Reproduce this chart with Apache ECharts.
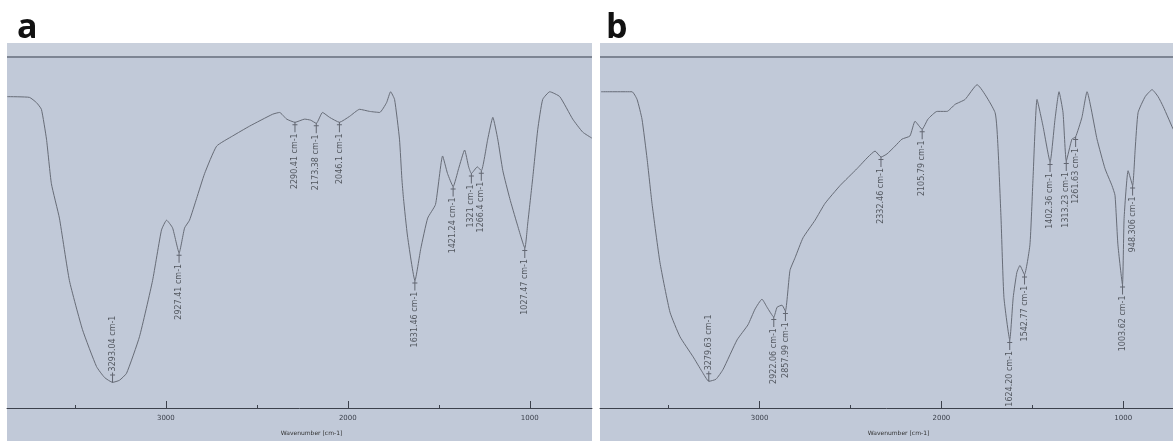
<!DOCTYPE html>
<html lang="en">
<head>
<meta charset="UTF-8">
<title>FTIR a / b</title>
<script src="https://cdn.jsdelivr.net/npm/echarts@6/dist/echarts.min.js"></script>
<style>
    html, body { margin: 0; padding: 0; background: #ffffff; }
    #chart { width: 1173px; height: 441px; }
</style>
</head>
<body>
<div id="chart"></div>
<script>
    // spectrum a : wavenumber (cm-1) / transmittance (%)
    var waveA = [3871, 3750, 3711, 3684, 3656, 3629, 3585, 3530, 3458, 3381, 3337, 3293, 3255, 3216, 3145, 3073, 3024, 2996, 2963, 2927,
        2897, 2870, 2831, 2787, 2721, 2633, 2540, 2413, 2375, 2336, 2290, 2237, 2204, 2173, 2139, 2100, 2046, 1990, 1935, 1880,
        1825, 1787, 1765, 1743, 1716, 1703, 1694, 1672, 1631, 1599, 1561, 1518, 1479, 1452, 1421, 1391, 1358, 1336, 1321, 1288,
        1266, 1231, 1203, 1176, 1148, 1110, 1071, 1027, 1011, 984, 956, 929, 890, 835, 764, 709, 659];
    var transA = [88.7, 88.5, 87.0, 85.1, 76.6, 63.9, 54.1, 36.3, 22.3, 11.8, 8.7, 7.3, 7.9, 9.9, 20.3, 36.3, 50.7, 53.5, 51.3, 44.2,
        51.3, 53.5, 59.7, 66.8, 74.6, 77.5, 80.3, 83.7, 84.2, 82.3, 81.4, 82.3, 82.0, 81.1, 84.2, 82.8, 81.4, 83.1, 85.1, 84.5,
        84.2, 87.0, 90.1, 87.9, 76.6, 65.4, 59.7, 49.0, 36.3, 45.4, 54.1, 58.0, 71.8, 66.8, 63.1, 68.2, 73.5, 68.7, 66.8, 68.7,
        67.6, 76.6, 82.8, 76.6, 67.6, 59.7, 52.7, 45.6, 52.7, 65.4, 79.4, 87.9, 90.1, 88.7, 82.3, 78.6, 76.9];

    // spectrum b
    var waveB = [3872, 3702, 3674, 3647, 3619, 3592, 3548, 3493, 3438, 3366, 3317, 3279, 3240, 3201, 3124, 3064, 3025, 2987, 2959, 2922,
        2904, 2877, 2858, 2833, 2805, 2761, 2695, 2640, 2557, 2464, 2404, 2365, 2332, 2299, 2255, 2217, 2173, 2145, 2106, 2074,
        2024, 1969, 1925, 1870, 1804, 1705, 1689, 1672, 1656, 1624, 1605, 1585, 1568, 1543, 1513, 1496, 1474, 1441, 1402, 1375,
        1353, 1331, 1313, 1282, 1262, 1227, 1199, 1144, 1100, 1062, 1045, 1029, 1004, 995, 973, 948, 934, 918, 879, 841,
        808, 780, 725];
    var transB = [90.1, 90.1, 87.9, 82.3, 71.0, 58.3, 41.4, 27.3, 20.3, 14.6, 10.4, 7.6, 8.2, 11.0, 19.4, 23.7, 28.2, 31.0, 28.7, 25.9,
        28.7, 29.3, 27.6, 39.2, 42.8, 48.5, 53.5, 58.3, 63.4, 68.2, 71.5, 73.2, 71.5, 72.4, 74.6, 76.6, 77.5, 81.7, 79.4, 82.3,
        84.5, 84.5, 86.5, 87.9, 92.1, 84.2, 74.6, 54.1, 31.5, 19.4, 31.5, 38.6, 40.6, 38.0, 46.5, 65.4, 87.9, 80.3, 70.1, 82.3,
        90.1, 84.2, 70.4, 76.6, 77.2, 82.8, 90.1, 76.6, 68.2, 63.4, 60.6, 46.5, 35.2, 54.0, 67.6, 63.4, 73.8, 84.2, 88.7, 90.7,
        88.7, 85.9, 79.4];

    // picked peaks
    var peakWaveA = [3293.04, 2927.41, 2290.41, 2173.38, 2046.1, 1631.46, 1421.24, 1321, 1266.4, 1027.47];
    var peakTA = [7.3, 44.2, 81.4, 81.1, 81.4, 36.3, 63.1, 66.8, 67.6, 45.6];
    var peakTextA = ['3293.04 cm-1', '2927.41 cm-1', '2290.41 cm-1', '2173.38 cm-1', '2046.1 cm-1', '1631.46 cm-1',
        '1421.24 cm-1', '1321 cm-1', '1266.4 cm-1', '1027.47 cm-1'];

    var peakWaveB = [3279.63, 2922.06, 2857.99, 2332.46, 2105.79, 1624.20, 1542.77, 1402.36, 1313.23, 1261.63, 1003.62, 948.306];
    var peakTB = [7.6, 25.9, 27.6, 71.5, 79.4, 19.4, 38.0, 70.1, 70.4, 77.2, 35.2, 63.4];
    var peakTextB = ['3279.63 cm-1', '2922.06 cm-1', '2857.99 cm-1', '2332.46 cm-1', '2105.79 cm-1', '1624.20 cm-1',
        '1542.77 cm-1', '1402.36 cm-1', '1313.23 cm-1', '1261.63 cm-1', '1003.62 cm-1', '948.306 cm-1'];

    var majorTicks = [3000, 2000, 1000];
    var minorTicks = [3500, 2500, 1500];
    var rangeA = [658, 3873];
    var rangeB = [726, 3878];

    var bg = '#c1c9d8';
    var axisColor = '#3c414c';

    function zip(xs, ys) {
        return xs.map(function (x, i) { return [x, ys[i]]; });
    }

    function peaks(ws, ts, texts) {
        return ws.map(function (w, i) {
            var up = ts[i] < 12;
            return {
                name: texts[i],
                value: [w, ts[i]],
                symbolOffset: [0, up ? -5 : 5],
                label: up ? { position: 'top', align: 'left' } : { position: 'bottom', align: 'right' }
            };
        });
    }

    function mainAxis(grid, range) {
        return {
            gridIndex: grid, type: 'value', position: 'bottom', inverse: true,
            min: range[0], max: range[1],
            axisLine: { lineStyle: { color: axisColor, width: 1 } },
            axisTick: { inside: true, length: 7, customValues: majorTicks, lineStyle: { color: axisColor } },
            axisLabel: {
                customValues: majorTicks, fontSize: 7, color: axisColor, margin: 7, fontFamily: 'DejaVu Sans',
                formatter: function (v) { return String(v); }
            },
            splitLine: { show: false },
            name: 'Wavenumber [cm-1]', nameLocation: 'middle', nameGap: 22,
            nameTextStyle: { fontSize: 6, color: '#333', padding: [0, 0, 0, 24], fontFamily: 'DejaVu Sans' }
        };
    }
    function minorAxis(grid, range) {
        return {
            gridIndex: grid, type: 'value', position: 'bottom', inverse: true,
            min: range[0], max: range[1],
            axisLine: { show: false },
            axisTick: { inside: true, length: 3, customValues: minorTicks, lineStyle: { color: axisColor } },
            axisLabel: { show: false },
            splitLine: { show: false }
        };
    }

    function lineSeries(axis, data) {
        return {
            type: 'line', xAxisIndex: axis, yAxisIndex: axis < 2 ? 0 : 1,
            data: data, showSymbol: false, smooth: 0.15,
            lineStyle: { color: '#676c77', width: 1 }, z: 3
        };
    }
    function peakSeries(axis, data) {
        return {
            type: 'scatter', xAxisIndex: axis, yAxisIndex: axis < 2 ? 0 : 1,
            data: data,
            symbol: 'path://M0,0 L1,0 L1,10 L0,10 Z M-2,2 L3,2 L3,3 L-2,3 Z',
            symbolSize: [5, 10],
            itemStyle: { color: '#4a4e58' },
            label: {
                show: true, formatter: '{b}', rotate: 90, verticalAlign: 'middle', distance: 1,
                fontSize: 8, color: '#363940', fontFamily: 'DejaVu Sans'
            },
            z: 4
        };
    }

    function panel(x, w) {
        return [
            { type: 'rect', z: -10, shape: { x: x, y: 43, width: w, height: 398 }, style: { fill: bg } },
            { type: 'rect', z: -9, shape: { x: x, y: 43, width: w, height: 13 }, style: { fill: '#c9d0dc' } },
            { type: 'rect', z: -8, shape: { x: x, y: 56, width: w, height: 2 }, style: { fill: '#7d8593' } }
        ];
    }

    var option = {
        animation: false,
        backgroundColor: '#ffffff',
        graphic: panel(7, 585).concat(panel(600, 573)).concat([
            { type: 'text', left: 17, top: 11, style: { text: 'a', font: 'bold 34px "Open Sans"', fill: '#111' } },
            { type: 'text', left: 606, top: 11, style: { text: 'b', font: 'bold 34px "Open Sans"', fill: '#111' } }
        ]),
        grid: [
            { left: 7, right: 581, top: 57, bottom: 29 },
            { left: 600, right: 0, top: 57, bottom: 29 }
        ],
        xAxis: [mainAxis(0, rangeA), minorAxis(0, rangeA), mainAxis(1, rangeB), minorAxis(1, rangeB)],
        yAxis: [
            { gridIndex: 0, type: 'value', min: 0, max: 100, show: false },
            { gridIndex: 1, type: 'value', min: 0, max: 100, show: false }
        ],
        series: [
            lineSeries(0, zip(waveA, transA)),
            peakSeries(0, peaks(peakWaveA, peakTA, peakTextA)),
            lineSeries(2, zip(waveB, transB)),
            peakSeries(2, peaks(peakWaveB, peakTB, peakTextB))
        ]
    };
    echarts.init(document.getElementById('chart')).setOption(option);
</script>
</body>
</html>
